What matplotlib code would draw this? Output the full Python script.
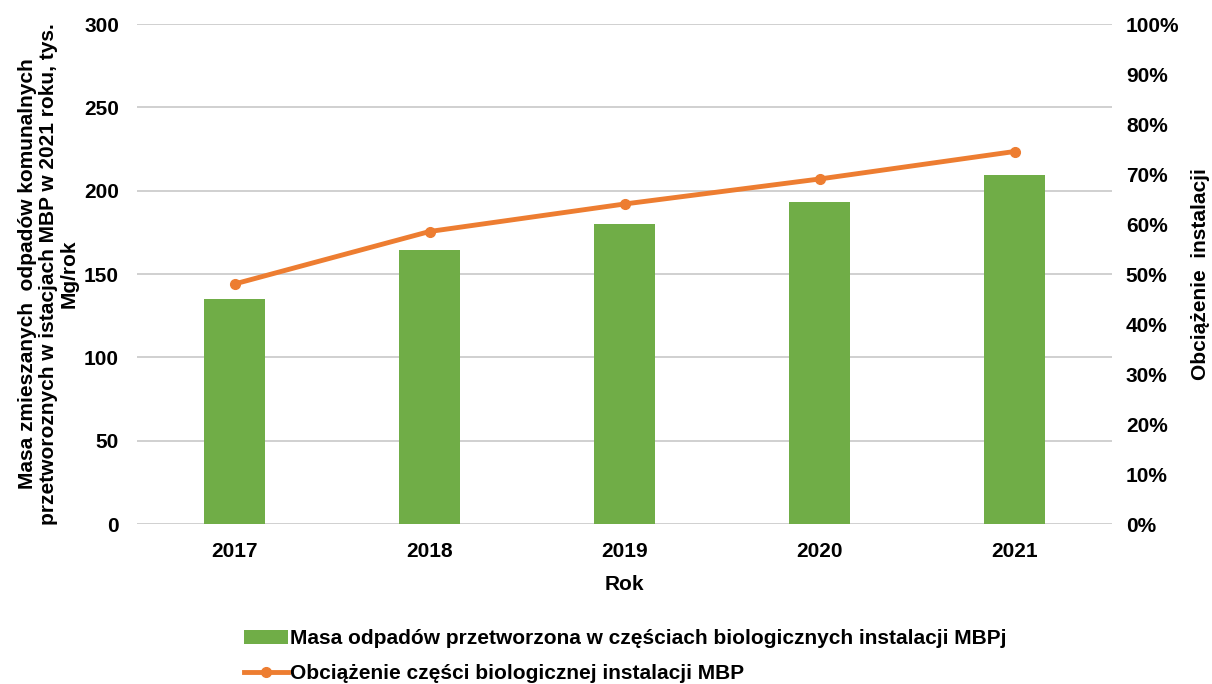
import numpy as np
import matplotlib.pyplot as plt

plt.rcParams['font.family'] = ['Liberation Sans', 'DejaVu Sans']
plt.rcParams['font.weight'] = 'bold'

# data
lata = ['2017', '2018', '2019', '2020', '2021']
masa = [135, 164.5, 180, 193, 209.5]           # tys. Mg/rok
obciazenie = [0.48, 0.585, 0.64, 0.69, 0.745]  # udzial

zielony = '#70AD47'
pomaranczowy = '#ED7D31'
fs = 15

fig = plt.figure(figsize=(12.12, 6.84), dpi=100)
ax = fig.add_axes([137/1212, 1-524/684, 975/1212, 500/684])
ax2 = ax.twinx()

x = np.arange(len(lata))
ax.bar(x, masa, width=0.31, color=zielony, zorder=2,
       label='Masa odpadów przetworzona w częściach biologicznych instalacji MBPj')
ax2.plot(x, obciazenie, color=pomaranczowy, lw=3.5, marker='o', ms=7, zorder=3,
         label='Obciążenie części biologicznej instalacji MBP')

ax.set_xlim(-0.5, 4.5)
ax.set_ylim(0, 300)
ax.set_yticks(np.arange(0, 301, 50))
ax2.set_ylim(0, 1)
ax2.set_yticks(np.arange(0, 1.01, 0.1))
ax2.set_yticklabels([f'{int(round(v*100))}%' for v in np.arange(0, 1.01, 0.1)])
ax.set_xticks(x)
ax.set_xticklabels(lata)

ax.grid(axis='y', color='#C8C8C8', lw=1.2, zorder=0)
ax.set_axisbelow(True)
for a in (ax, ax2):
    for s in a.spines.values():
        s.set_visible(False)
    a.tick_params(length=0, labelsize=fs)
ax.tick_params(axis='y', pad=13)
ax2.tick_params(axis='y', pad=10)
ax.tick_params(axis='x', pad=13)

ax.set_xlabel('Rok', fontsize=fs, fontweight='bold', labelpad=10)
ax.set_ylabel('Masa zmieszanych  odpadów komunalnych\nprzetworoznych w istacjach MBP w 2021 roku, tys.\nMg/rok',
              fontsize=fs, fontweight='bold', linespacing=1.12, labelpad=4)
ax2.set_ylabel('Obciążenie  instalacji', fontsize=fs, fontweight='bold', labelpad=8)

h1, l1 = ax.get_legend_handles_labels()
h2, l2 = ax2.get_legend_handles_labels()
fig.legend(h1 + h2, l1 + l2, loc='upper left', bbox_to_anchor=(236/1212, 1-621/684),
           frameon=False, fontsize=fs, handlelength=2.1, handletextpad=0.1,
           labelspacing=0.75, borderaxespad=0)

plt.savefig('out.png', dpi=100)
